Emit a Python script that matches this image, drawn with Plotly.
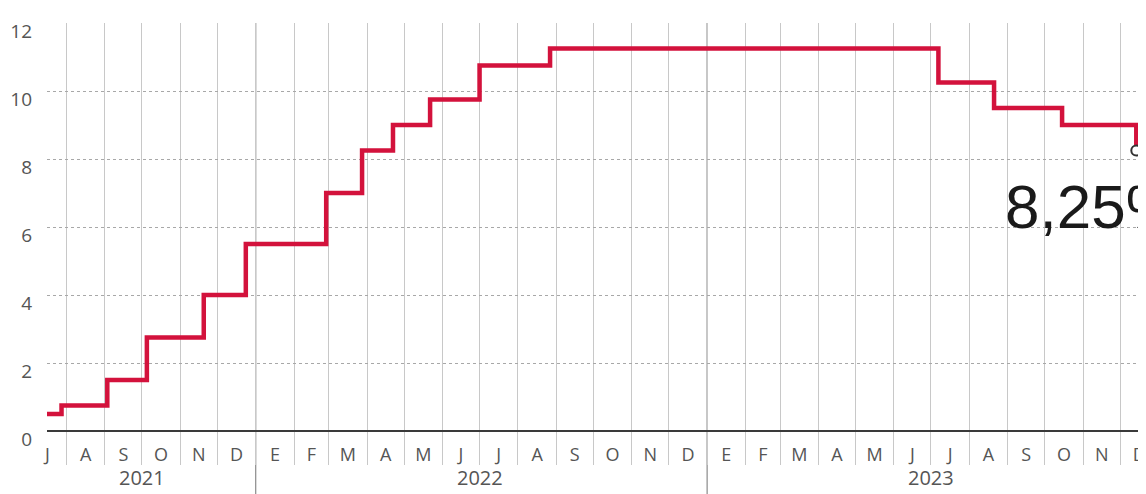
import plotly.graph_objects as go
import pandas as pd

# Data
start_date = "2021-07-16 06:00"
start_rate = 0.5
change_dates = ["2021-07-28", "2021-09-03", "2021-10-05", "2021-11-20", "2021-12-24",
                "2022-02-27", "2022-03-28", "2022-04-22", "2022-05-22", "2022-07-01",
                "2022-08-27", "2023-07-07", "2023-08-21", "2023-10-15", "2023-12-14"]
rates = [0.75, 1.5, 2.75, 4.0, 5.5, 7.0, 8.25, 9.0, 9.75, 10.75, 11.25, 10.25, 9.5, 9.0, 8.25]

month_letters = ["J", "A", "S", "O", "N", "D",
                 "E", "F", "M", "A", "M", "J", "J", "A", "S", "O", "N", "D",
                 "E", "F", "M", "A", "M", "J", "J", "A", "S", "O", "N", "D"]
first_month = "2021-07-01"
years = ["2021", "2022", "2023"]
year_centers = ["2021-10-01", "2022-07-01", "2023-07-01"]
y_ticks = [0, 2, 4, 6, 8, 10, 12]

x_range = ["2021-07-16 06:00", "2023-12-17"]

month_starts = pd.date_range(first_month, periods=len(month_letters), freq="MS")
mid_months = [d + (d + pd.offsets.MonthBegin(1) - d) / 2 for d in month_starts]

RED = "#d3123c"
GREY_TXT = "#555555"

fig = go.Figure()
fig.add_trace(go.Scatter(
    x=[start_date] + change_dates, y=[start_rate] + rates,
    mode="lines", line=dict(color=RED, width=4.5, shape="hv"),
    cliponaxis=False, hoverinfo="skip", showlegend=False))
fig.add_trace(go.Scatter(
    x=[change_dates[-1]], y=[rates[-1]], mode="markers",
    marker=dict(size=10, color="white", line=dict(color="#333333", width=2)),
    cliponaxis=False, showlegend=False, hoverinfo="skip"))

# year separators
for d in ["2022-01-01", "2023-01-01"]:
    fig.add_shape(type="line", xref="x", yref="paper", x0=d, x1=d, y0=-0.16, y1=1,
                  line=dict(color="#8a8a8a", width=1.2), layer="below")

for yr, xc in zip(years, year_centers):
    fig.add_annotation(x=xc, y=-0.115, xref="x", yref="paper", text=yr, showarrow=False,
                       yanchor="middle", font=dict(family="Open Sans", size=20, color=GREY_TXT))

label = ("%.2f" % rates[-1]).replace(".", ",") + "%"
fig.add_annotation(x="2023-08-28", y=6.6, xref="x", yref="y", text=label, showarrow=False,
                   xanchor="left", yanchor="middle",
                   font=dict(family="Liberation Sans, Arial, sans-serif",
                             size=62, color="#1a1a1a"))

# page body has an 8px margin: figure sized/positioned to fit the window
fig.update_layout(
    width=1138, height=486,
    margin=dict(l=39, r=6, t=15, b=63),
    paper_bgcolor="white", plot_bgcolor="white",
    xaxis=dict(
        type="date", range=x_range, automargin=False,
        tickvals=mid_months, ticktext=month_letters,
        ticks="", showgrid=False, zeroline=False, showline=False,
        tickfont=dict(family="Open Sans", size=18, color=GREY_TXT),
        ticklabelstandoff=11,
        minor=dict(tick0=first_month, dtick="M1", showgrid=True, gridcolor="#c8c8c8",
                   gridwidth=1, ticks="outside", ticklen=33, tickcolor="#c8c8c8", tickwidth=1),
    ),
    yaxis=dict(
        range=[0, 12], tickvals=y_ticks, showgrid=True, gridcolor="#a8a8a8", automargin=False,
        griddash="dot", gridwidth=1, zeroline=True, zerolinecolor="#3a3a3a", zerolinewidth=2,
        showline=False, ticks="",
        tickfont=dict(family="Open Sans", size=19, color=GREY_TXT),
        ticklabelstandoff=14, ticklabelshift=8,
    ),
)

fig.write_html("out.html")
